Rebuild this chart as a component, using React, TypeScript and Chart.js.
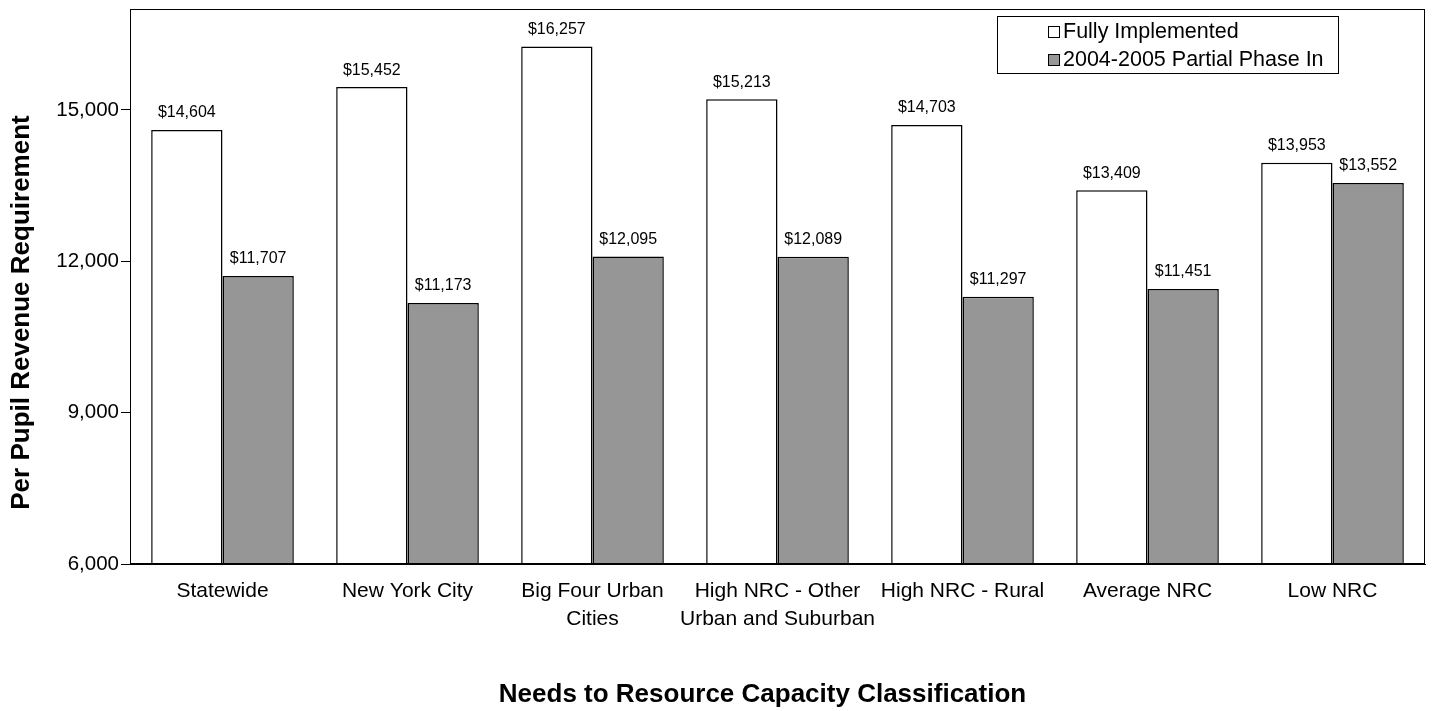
import React, { useEffect, useRef } from "react";
import { Chart, registerables } from "chart.js";

Chart.register(...registerables);

const categories: string[][] = [
  ["Statewide"],
  ["New York City"],
  ["Big Four Urban", "Cities"],
  ["High NRC - Other", "Urban and Suburban"],
  ["High NRC - Rural"],
  ["Average NRC"],
  ["Low NRC"],
];
const fullyImplemented = [14604, 15452, 16257, 15213, 14703, 13409, 13953];
const partialPhaseIn = [11707, 11173, 12095, 12089, 11297, 11451, 13552];
const yTicks = [6000, 9000, 12000, 15000];
const seriesNames = ["Fully Implemented", "2004-2005 Partial Phase In"];
const seriesColors = ["#ffffff", "#969696"];
const yTitle = "Per Pupil Revenue Requirement";
const xTitle = "Needs to Resource Capacity Classification";

const FONT = "'Liberation Sans', Arial, sans-serif";

const fmt = (v: number) => v.toLocaleString("en-US");

const decor = {
  id: "decor",
  afterDatasetsDraw(chart: any) {
    const { ctx } = chart;
    ctx.save();
    ctx.fillStyle = "#000";
    ctx.font = `16px ${FONT}`;
    ctx.textAlign = "center";
    ctx.textBaseline = "middle";
    chart.data.datasets.forEach((ds: any, i: number) => {
      const meta = chart.getDatasetMeta(i);
      meta.data.forEach((bar: any, j: number) => {
        ctx.fillText("$" + fmt(ds.data[j]), bar.x, bar.y - 17);
      });
    });
    ctx.restore();
  },
  afterDraw(chart: any) {
    const { ctx, chartArea: a } = chart;
    ctx.save();
    // plot border
    ctx.strokeStyle = "#000";
    ctx.lineWidth = 1;
    ctx.strokeRect(a.left + 0.5, a.top + 0.5, a.right - a.left - 1, a.bottom - a.top - 1);

    // legend
    const lx = a.right - 428;
    const ly = a.top + 7;
    ctx.fillStyle = "#fff";
    ctx.fillRect(lx, ly, 341, 57);
    ctx.strokeRect(lx + 0.5, ly + 0.5, 341, 57);
    ctx.font = `21.5px ${FONT}`;
    ctx.textAlign = "left";
    ctx.textBaseline = "middle";
    seriesNames.forEach((name, i) => {
      const cy = ly + 16 + i * 28;
      ctx.fillStyle = seriesColors[i];
      ctx.fillRect(lx + 51.5, cy - 5.5, 11, 11);
      ctx.strokeStyle = "#000";
      ctx.lineWidth = 1;
      ctx.strokeRect(lx + 51.5, cy - 5.5, 11, 11);
      ctx.fillStyle = "#000";
      ctx.fillText(name, lx + 66, cy);
    });

    // axis titles
    ctx.font = `bold 26px ${FONT}`;
    ctx.textAlign = "center";
    ctx.textBaseline = "middle";
    ctx.fillStyle = "#000";
    ctx.fillText(xTitle, (a.left + a.right) / 2 - 15, 695);
    ctx.translate(22, (a.top + a.bottom) / 2 + 26);
    ctx.rotate(-Math.PI / 2);
    ctx.fillText(yTitle, 0, 0);
    ctx.restore();
  },
};

export default function App() {
  const ref = useRef<HTMLCanvasElement | null>(null);
  useEffect(() => {
    document.body.style.margin = "0";
    const chart = new Chart(ref.current as HTMLCanvasElement, {
      type: "bar",
      data: {
        labels: categories,
        datasets: [
          {
            label: seriesNames[0],
            data: fullyImplemented,
            backgroundColor: seriesColors[0],
            borderColor: "#000",
            borderWidth: 1.5,
            categoryPercentage: 0.771,
            barPercentage: 1,
          },
          {
            label: seriesNames[1],
            data: partialPhaseIn,
            backgroundColor: seriesColors[1],
            borderColor: "#000",
            borderWidth: 1.5,
            categoryPercentage: 0.771,
            barPercentage: 1,
          },
        ],
      },
      options: {
        animation: false,
        responsive: false,
        maintainAspectRatio: false,
        layout: { padding: { left: 0, right: 7, top: 9, bottom: 0 } },
        plugins: { legend: { display: false }, tooltip: { enabled: false } },
        scales: {
          x: {
            grid: { display: false, drawTicks: false, drawOnChartArea: false },
            border: { display: true, color: "#000" },
            ticks: {
              color: "#000",
              font: { family: FONT, size: 21, lineHeight: 1.3 },
              padding: 14,
              maxRotation: 0,
              autoSkip: false,
            },
            afterFit: (s: any) => {
              s.height = 147;
              s.paddingLeft = 0;
              s.paddingRight = 0;
            },
          },
          y: {
            min: 6000,
            max: 17000,
            grid: { display: true, drawOnChartArea: false, drawTicks: true, tickLength: 9, color: "#000" },
            border: { display: true, color: "#000" },
            ticks: {
              color: "#000",
              font: { family: FONT, size: 20.5 },
              padding: 2,
              callback: (v: any) => fmt(Number(v)),
            },
            afterBuildTicks: (s: any) => {
              s.ticks = yTicks.map((v) => ({ value: v }));
            },
            afterFit: (s: any) => {
              s.width = 130;
              s.paddingTop = 0;
              s.paddingBottom = 0;
            },
          },
        },
      },
      plugins: [decor],
    });
    return () => chart.destroy();
  }, []);
  return (
    <div style={{ width: 1432, height: 711 }}>
      <canvas ref={ref} width={1432} height={711} style={{ display: "block" }} />
    </div>
  );
}
